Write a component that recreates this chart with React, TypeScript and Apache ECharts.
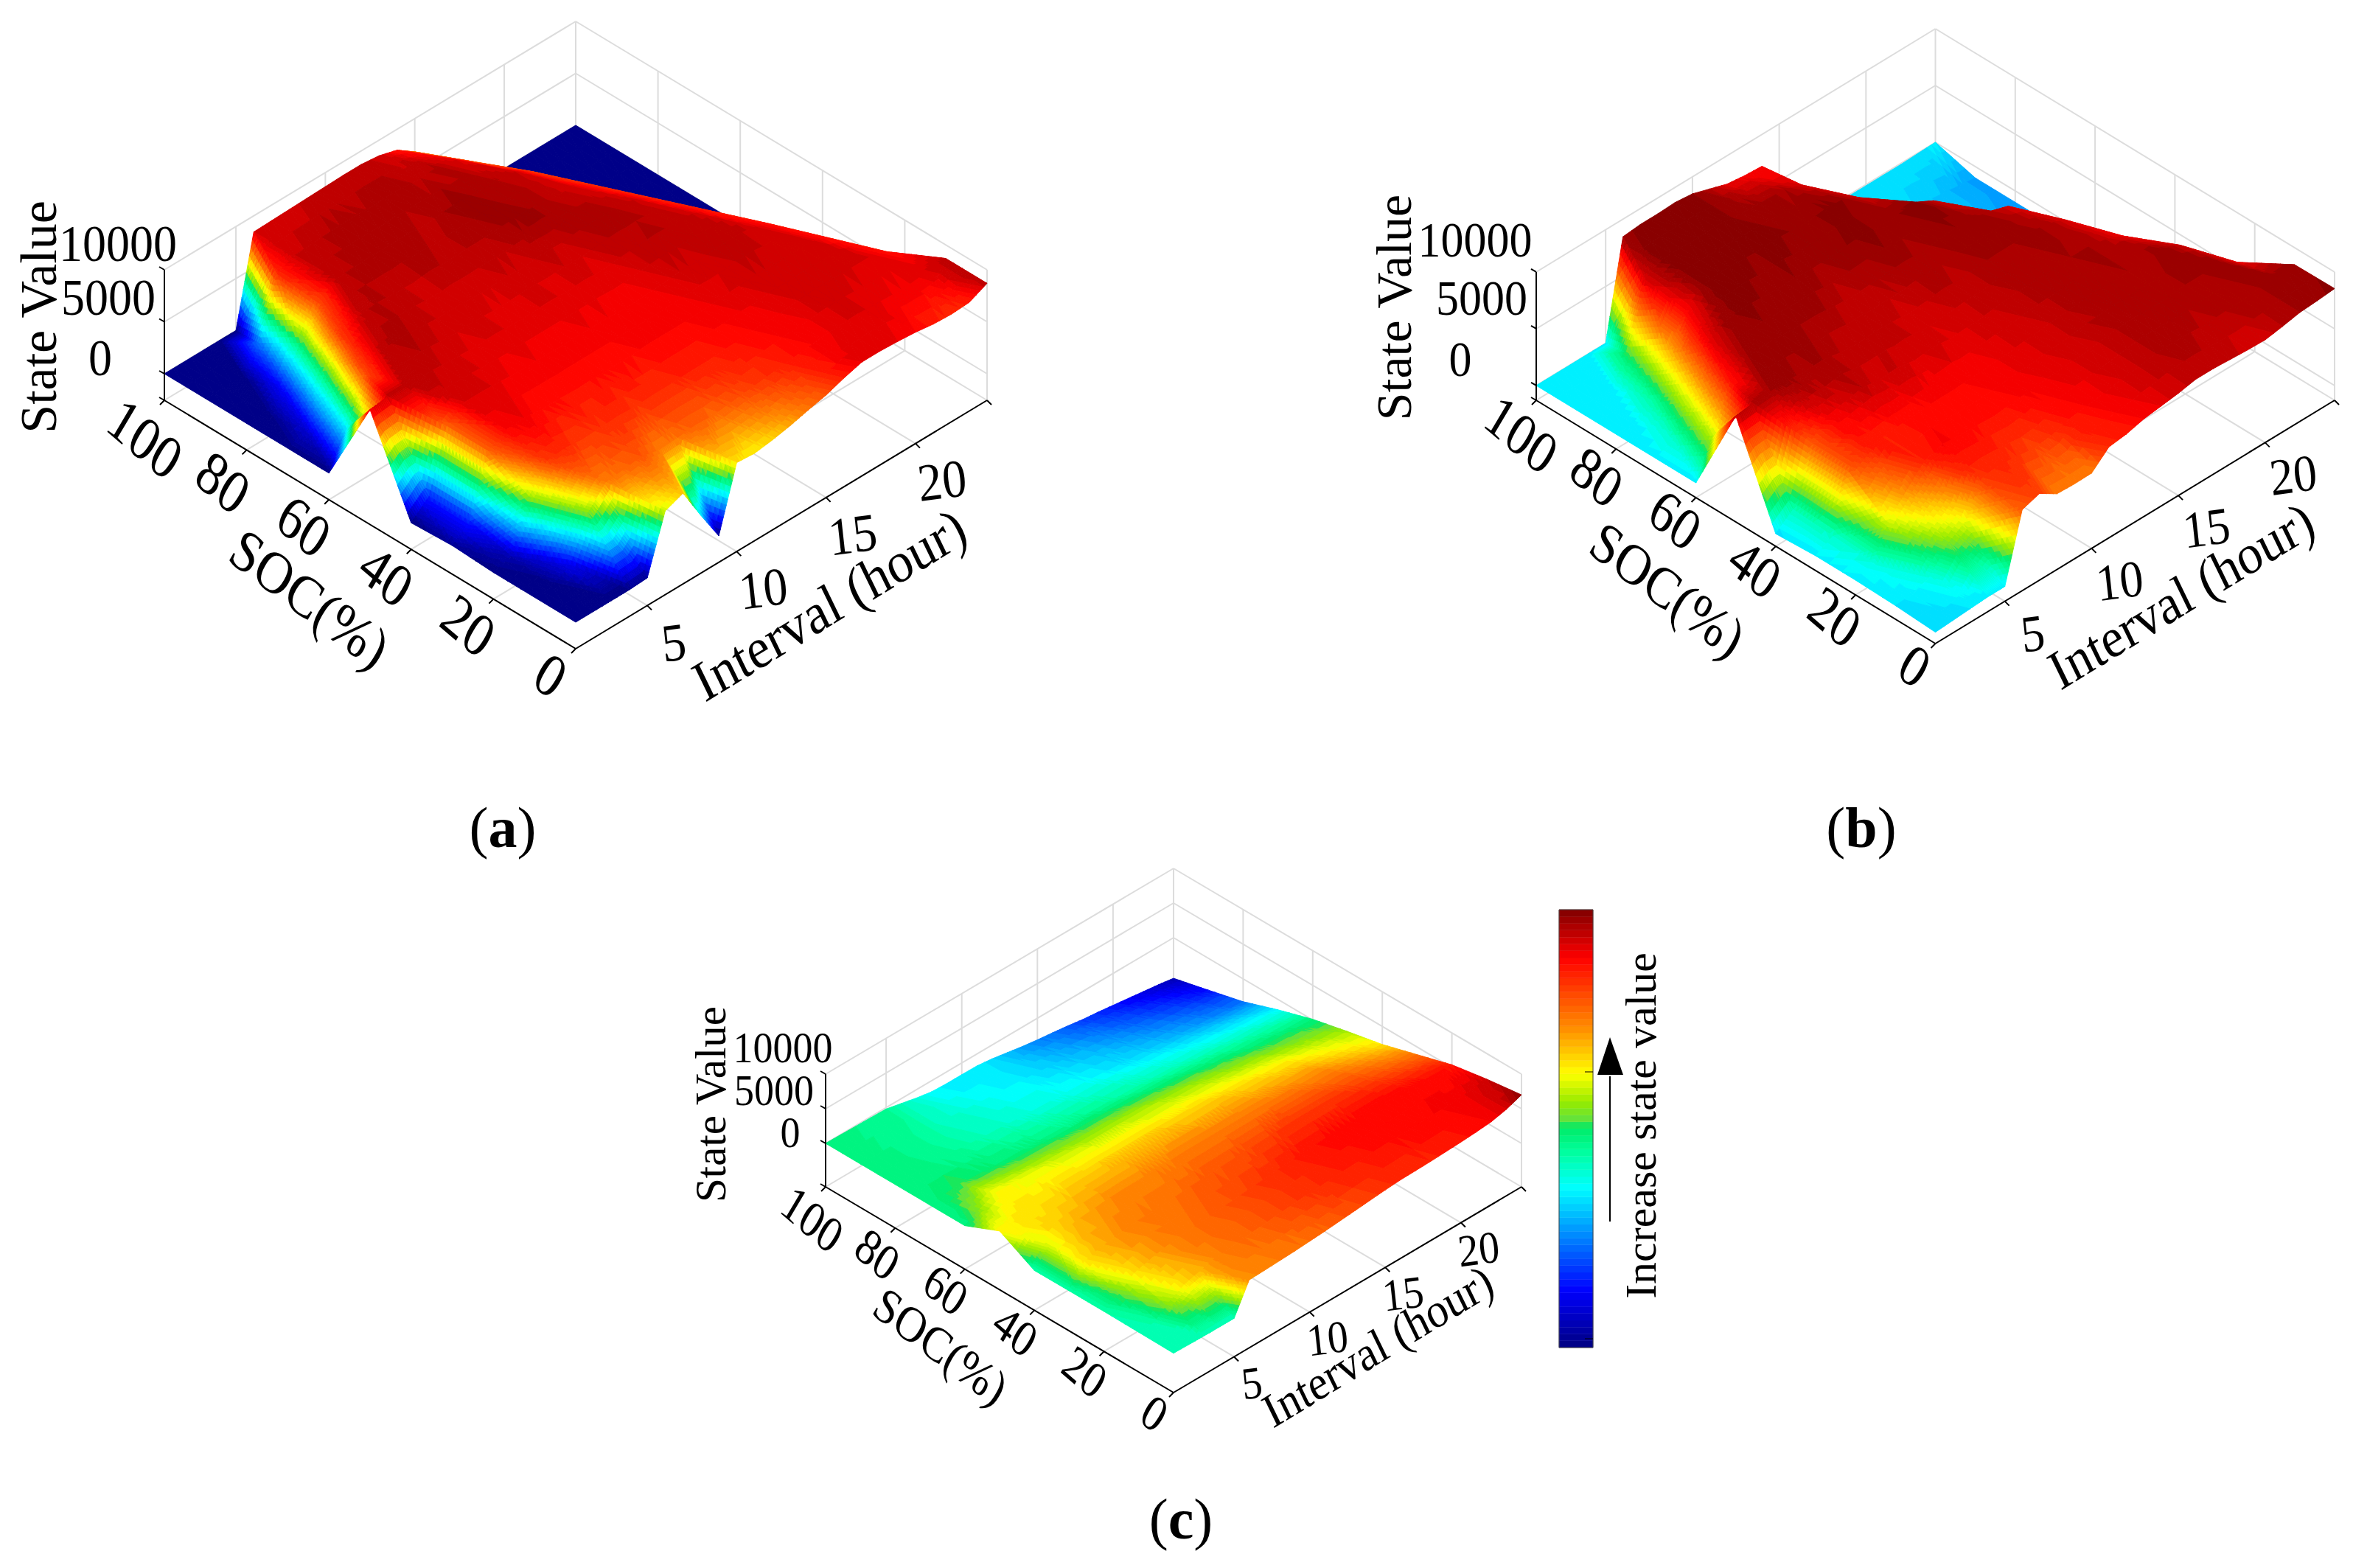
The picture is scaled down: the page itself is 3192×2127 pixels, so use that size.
import React, { useEffect, useRef } from "react";
import * as echarts from "echarts";

const socLevels = [0, 10, 20, 30, 40, 50, 60, 70, 80, 90, 100];
const hourLevels = [1, 2, 3, 4, 5, 6, 7, 8, 9, 10, 11, 12, 13, 14, 15, 16, 17, 18, 19, 20, 21, 22, 23, 24];
const socTicks = [0, 20, 40, 60, 80, 100];
const hourTicks = [5, 10, 15, 20];
const zTicks = [0, 5000, 10000];

const surfaceA = [
  [0,0,0,0,100,5500,6180,3000,0,6000,5860,6100,6450,6900,7300,7900,8400,8400,8300,8150,7900,7800,7900,8700],
  [0,0,1000,5000,6900,7100,7300,6900,7000,7200,7100,7300,7500,7700,7900,8100,8300,8400,8500,8400,8300,8300,8500,8700],
  [0,500,5200,7600,7800,7600,7700,7800,7700,7800,7800,7900,7900,8000,8100,8300,8300,8500,8600,8500,8500,8500,8000,0],
  [200,1500,7200,8200,8300,8100,8100,8000,8100,8100,8100,8200,8200,8200,8300,8400,8500,8600,8500,8600,8600,8000,0,0],
  [0,1500,7200,8500,8500,8400,8300,8300,8300,8300,8300,8300,8200,8300,8400,8600,8500,8700,8800,8600,8000,0,0,0],
  [8500,8700,8700,8700,8600,8500,8400,8500,8400,8400,8500,8400,8500,8400,8600,8700,8800,8700,8600,7900,0,0,0,0],
  [0,3200,7400,8700,8900,8700,8600,8600,8500,8500,8600,8500,8700,8600,8800,8900,8800,8600,7800,0,0,0,0,0],
  [0,800,3800,7600,8600,8800,8700,8600,8800,8700,8800,8800,8900,9000,8900,8700,8500,7700,0,0,0,0,0,0],
  [0,0,1200,4600,7400,8700,8800,8900,8800,8900,8700,8900,9050,8800,8800,8600,7600,0,0,0,0,0,0,0],
  [0,0,0,2200,7800,8600,8700,8800,8900,8800,8900,8850,8700,8800,8400,7200,0,0,0,0,0,0,0,0],
  [0,0,0,0,0,8450,8500,8550,8600,8650,8700,8700,8500,8000,6800,2500,0,0,0,0,0,0,0,0],
];

const surfaceB = [
  [-300,-200,-100,0,0,5830,6330,5370,5300,5330,6700,6900,7290,7500,7700,8000,8000,7900,7800,7750,8000,8300,8400,8540],
  [-100,0,600,2500,3500,6500,6700,6500,6300,6500,7000,7200,7400,7700,7900,8100,8200,8100,8000,8100,8200,8300,8400,8500],
  [0,600,3500,5200,6800,7300,7200,7100,7000,7200,7300,7500,7600,7700,7900,8100,8200,8100,8200,8300,8300,8400,7500,-500],
  [0,800,6000,7000,6800,7000,7100,7200,7200,7300,7400,7500,7700,7800,8000,8100,8300,8200,8300,8200,8400,7800,-300,-300],
  [-200,1000,6000,7400,7700,8000,7800,7900,7600,7800,7600,7700,7800,8000,8100,8200,8200,8300,8300,8000,7400,-500,-600,-600],
  [8040,8200,8300,8400,8200,8300,8000,7900,8000,7900,7800,7900,8100,8000,8200,8300,8300,8400,8200,7600,-500,-500,-600,-800],
  [0,3200,7000,8300,8500,8400,8300,8300,8100,8000,8100,8200,8300,8200,8400,8500,8400,8100,7600,-300,-400,-500,-700,-900],
  [0,800,3800,7400,8400,8600,8500,8400,8500,8300,8400,8500,8600,8400,8500,8600,7800,-800,-600,-500,-500,-600,-800,-1000],
  [0,0,1200,4600,7200,8500,8700,8600,8500,8600,8500,8400,8600,8500,7800,-1000,-800,-500,-400,-400,-500,-700,-900,-1000],
  [0,0,0,2200,7700,8600,8700,8600,8700,8500,8400,8300,8200,7700,-200,-500,-400,-300,-300,-300,-400,-600,-800,-1000],
  [0,0,0,0,0,8450,8600,8600,8670,8500,8000,7500,7300,7200,1000,-300,-200,-200,-100,-100,-100,-100,-50,0],
];

const surfaceC = [
  [-600,-650,-700,-720,-730,3530,3600,3700,3800,3950,4100,4300,4500,4700,4900,5050,5100,5150,5250,5350,5500,5700,6200,7000],
  [-550,-500,1200,2400,3000,3600,3900,4100,4300,4500,4700,4900,5000,5200,5300,5400,5500,5600,5650,5700,5750,5800,6100,6300],
  [-500,700,2400,3000,3500,3800,4000,4200,4400,4600,4800,5000,5200,5400,5500,5600,5600,5650,5700,5700,5650,5600,5500,5400],
  [-500,2400,3000,3400,3700,3800,3900,4000,4200,4300,4400,4500,4600,4700,4800,4900,4900,4900,4800,4700,4500,4300,4100,3900],
  [-530,1800,2700,3100,3300,3500,3600,3600,3700,3700,3800,3800,3800,3800,3800,3800,3700,3700,3600,3600,3300,3000,2700,2400],
  [2200,2300,2400,2500,2600,2700,2700,2800,2800,2800,2800,2800,2700,2700,2700,2600,2500,2400,2300,2200,1900,1700,1500,1300],
  [0,1100,2100,2000,1900,1800,1700,1600,1500,1500,1500,1400,1400,1300,1200,1100,1000,800,700,500,400,300,200,100],
  [0,300,500,300,200,100,50,0,-100,-200,-200,-300,-400,-500,-600,-700,-800,-900,-1000,-1100,-1200,-1300,-1400,-1500],
  [0,0,-50,-200,-300,-500,-700,-800,-1000,-1100,-1200,-1300,-1400,-1500,-1700,-1900,-2000,-2200,-2400,-2600,-2800,-3000,-3200,-3300],
  [0,-50,-100,-200,-400,-700,-900,-1100,-1300,-1500,-1600,-1800,-2000,-2200,-2400,-2600,-2900,-3100,-3400,-3600,-3900,-4100,-4400,-4600],
  [0,-50,-100,-150,-200,-700,-1200,-1600,-1700,-1700,-1730,-2000,-2400,-2800,-3130,-3400,-3700,-4060,-4300,-4600,-4900,-5200,-5500,-5860],
];

const colorStops: number[][] = [
  [0, 0, 0, 128], [0.13, 0, 0, 255], [0.365, 0, 255, 255], [0.445, 0, 255, 160], [0.505, 0, 235, 100],
  [0.515, 90, 225, 70], [0.56, 150, 235, 0], [0.625, 255, 255, 0], [0.73, 255, 140, 0], [0.89, 255, 0, 0], [1, 128, 0, 0],
];

const SERIF = '"Liberation Serif"';
const LEVELS = 64;

function jet(t: number) {
  const x = Math.max(0, Math.min(1, t));
  for (let i = 1; i < colorStops.length; i++) {
    const a = colorStops[i - 1], b = colorStops[i];
    if (x <= b[0]) {
      const f = (x - a[0]) / (b[0] - a[0]);
      const m = (k: number) => Math.round(a[k] + (b[k] - a[k]) * f);
      return `rgb(${m(1)},${m(2)},${m(3)})`;
    }
  }
  return "rgb(128,0,0)";
}
function band(t: number) {
  const k = Math.max(0, Math.min(LEVELS - 1, Math.floor(t * LEVELS)));
  return jet((k + 0.5) / LEVELS);
}

type Panel = {
  z: number[][]; cMin: number; cMax: number;
  leftX: number; hw: number; frontY: number; hh: number; pz: number; floorZ: number;
  zFont: number; socFont: number; hourFont: number; titleFont: number;
  zOff: number[][]; socOff: number[]; hourOff: number[];
  state: [number, number]; soc: [number, number]; interval: [number, number];
};

const panels: Panel[] = [
  { z: surfaceA, cMin: 0, cMax: 9200, leftX: 223, hw: 558, frontY: 880, hh: 337, pz: 0.0141, floorZ: -2553,
    zFont: 64, socFont: 70, hourFont: 66, titleFont: 70,
    zOff: [[-87, -22], [-76, -33], [-63, -36]], socOff: [-34, 36], hourOff: [36, 50],
    state: [52, 430], soc: [420, 812], interval: [1125, 820] },
  { z: surfaceB, cMin: -4690, cMax: 8710, leftX: 2084, hw: 541.5, frontY: 873, hh: 330, pz: 0.0154, floorZ: -1300,
    zFont: 62, socFont: 68, hourFont: 64, titleFont: 68,
    zOff: [[-103, -36], [-74, -42], [-83, -44]], socOff: [-28, 30], hourOff: [38, 44],
    state: [1891, 417], soc: [2262, 800], interval: [2959, 808] },
  { z: surfaceC, cMin: -6517, cMax: 7208, leftX: 1120, hw: 472, frontY: 1889, hh: 279, pz: 0.0094, floorZ: -6277,
    zFont: 54, socFont: 58, hourFont: 56, titleFont: 59,
    zOff: [[-48, -15], [-70, -25], [-58, -36]], socOff: [-26, 28], hourOff: [24, 36],
    state: [964, 1498], soc: [1276, 1826], interval: [1869, 1826] },
];

const hourT = (h: number) => (h - 1) / 23;
const socT = (s: number) => s / 100;

const textEl = (x: number, y: number, text: string, font: number, rotation = 0, scaleY = 1) => ({
  type: "group", x, y, scaleY,
  children: [{
    type: "text", x: 0, y: 0, rotation,
    style: { text, fill: "#000", font: `${font}px ${SERIF}`, align: "center", verticalAlign: "middle", textAlign: "center", textVerticalAlign: "middle" },
  }],
});

function makeSeries(p: Panel, idx: number) {
  const K = p.hh / p.pz;
  const project = (api: any, soc: number, hour: number, z: number) => {
    const u = hourT(hour), v = socT(soc);
    return api.coord([u - v, z + (u + v) * K]);
  };

  const segs: number[][] = [];
  const zTop = 10000;
  const hMax = 24, sMax = 100;
  for (const h of hourTicks) {
    segs.push([sMax, h, p.floorZ, sMax, h, zTop]);
    segs.push([0, h, p.floorZ, sMax, h, p.floorZ]);
  }
  for (const c of socTicks) {
    if (c !== 100) segs.push([c, hMax, p.floorZ, c, hMax, zTop]);
    if (c !== 0 && c !== 100) segs.push([c, 1, p.floorZ, c, hMax, p.floorZ]);
  }
  for (const z of zTicks) {
    segs.push([sMax, 1, z, sMax, hMax, z]);
    segs.push([sMax, hMax, z, 0, hMax, z]);
  }
  segs.push([sMax, 1, p.floorZ, sMax, hMax, p.floorZ]);
  segs.push([sMax, hMax, p.floorZ, 0, hMax, p.floorZ]);
  segs.push([sMax, hMax, p.floorZ, sMax, hMax, zTop]);

  const frame = {
    type: "custom", xAxisIndex: idx, yAxisIndex: idx, silent: true, clip: false, z: 1,
    data: segs,
    renderItem: (_: any, api: any) => {
      const a = project(api, api.value(0), api.value(1), api.value(2));
      const b = project(api, api.value(3), api.value(4), api.value(5));
      return { type: "line", shape: { x1: a[0], y1: a[1], x2: b[0], y2: b[1] }, style: { stroke: "#dcdcdc", lineWidth: 2, fill: null } };
    },
  };

  const cells: number[][] = [];
  for (let i = 0; i < socLevels.length - 1; i++)
    for (let j = 0; j < hourLevels.length - 1; j++) cells.push([socLevels[i], hourLevels[j], i, j]);
  cells.sort((a, b) => (hourT(b[1]) + socT(b[0])) - (hourT(a[1]) + socT(a[0])));

  const range = p.cMax - p.cMin;
  const surface = {
    type: "custom", xAxisIndex: idx, yAxisIndex: idx, silent: true, clip: false, z: 2,
    data: cells,
    renderItem: (_: any, api: any) => {
      const i = api.value(2), j = api.value(3);
      const z00 = p.z[i][j], z01 = p.z[i][j + 1], z10 = p.z[i + 1][j], z11 = p.z[i + 1][j + 1];
      const step = range / 48;
      const spread = Math.max(Math.abs(z01 - z00), Math.abs(z11 - z10), Math.abs(z10 - z00), Math.abs(z11 - z01));
      const n = Math.max(2, Math.min(12, Math.ceil(spread / step)));
      const s0 = socLevels[i], s1 = socLevels[i + 1], h0 = hourLevels[j], h1 = hourLevels[j + 1];
      const mainDiag = Math.abs(z00 - z11) <= Math.abs(z01 - z10);
      const zAt = (a: number, b: number) => {
        if (mainDiag) {
          return b >= a ? z00 + b * (z01 - z00) + a * (z11 - z01) : z00 + a * (z10 - z00) + b * (z11 - z10);
        }
        return a + b <= 1 ? z00 + b * (z01 - z00) + a * (z10 - z00) : z11 + (1 - b) * (z10 - z11) + (1 - a) * (z01 - z11);
      };
      const P = (a: number, b: number) => project(api, s0 + (s1 - s0) * a, h0 + (h1 - h0) * b, zAt(a, b));
      const children: any[] = [];
      const tri = (pts: number[][]) => {
        const ca = (pts[0][0] + pts[1][0] + pts[2][0]) / 3, cb = (pts[0][1] + pts[1][1] + pts[2][1]) / 3;
        const col = band((zAt(ca, cb) - p.cMin) / range);
        children.push({
          type: "polygon",
          shape: { points: pts.map((q) => P(q[0], q[1])) },
          style: { fill: col, stroke: col, lineWidth: 1 },
        });
      };
      for (let ia = n - 1; ia >= 0; ia--) {
        for (let ib = n - 1; ib >= 0; ib--) {
          const a0 = ia / n, a1 = (ia + 1) / n, b0 = ib / n, b1 = (ib + 1) / n;
          if (mainDiag) {
            tri([[a0, b0], [a0, b1], [a1, b1]]);
            tri([[a0, b0], [a1, b0], [a1, b1]]);
          } else {
            tri([[a1, b1], [a0, b1], [a1, b0]]);
            tri([[a0, b0], [a0, b1], [a1, b0]]);
          }
        }
      }
      return { type: "group", children };
    },
  };

  const axisSegs: number[][] = [
    [100, 1, p.floorZ, 0, 1, p.floorZ],
    [0, 1, p.floorZ, 0, 24, p.floorZ],
    [100, 1, p.floorZ, 100, 1, 10000],
  ];
  const axes = {
    type: "custom", xAxisIndex: idx, yAxisIndex: idx, silent: true, clip: false, z: 3,
    data: axisSegs,
    renderItem: (_: any, api: any) => {
      const a = project(api, api.value(0), api.value(1), api.value(2));
      const b = project(api, api.value(3), api.value(4), api.value(5));
      return { type: "line", shape: { x1: a[0], y1: a[1], x2: b[0], y2: b[1] }, style: { stroke: "#000", lineWidth: 2, fill: null } };
    },
  };
  const tickMarks: number[][] = [];
  for (const c of socTicks) tickMarks.push([c, 1]);
  for (const h of hourTicks) tickMarks.push([0, h]);
  tickMarks.push([0, 24]);
  const ticks = {
    type: "custom", xAxisIndex: idx, yAxisIndex: idx, silent: true, clip: false, z: 3,
    data: tickMarks,
    renderItem: (_: any, api: any) => {
      const c = api.value(0), h = api.value(1);
      const a = project(api, c, h, p.floorZ);
      const dx = c === 0 && h > 1 ? 6 : -6;
      return { type: "line", shape: { x1: a[0], y1: a[1], x2: a[0] + dx, y2: a[1] + 6 }, style: { stroke: "#000", lineWidth: 2, fill: null } };
    },
  };
  const zTickMarks = {
    type: "custom", xAxisIndex: idx, yAxisIndex: idx, silent: true, clip: false, z: 3,
    data: [...zTicks, p.floorZ].map((z) => [z]),
    renderItem: (_: any, api: any) => {
      const a = project(api, 100, 1, api.value(0));
      return { type: "line", shape: { x1: a[0], y1: a[1], x2: a[0] - 7, y2: a[1] - 4 }, style: { stroke: "#000", lineWidth: 2, fill: null } };
    },
  };

  const socLabels = {
    type: "custom", xAxisIndex: idx, yAxisIndex: idx, silent: true, clip: false, z: 4,
    data: socTicks.map((c) => [c]),
    renderItem: (_: any, api: any) => {
      const c = api.value(0);
      const a = project(api, c, 1, p.floorZ);
      const extra = c === 100 ? [8, 16] : c === 80 ? [2, 8] : [0, 0];
      return textEl(a[0] + p.socOff[0] + extra[0], a[1] + p.socOff[1] + extra[1], String(c), p.socFont, -0.62, 1.2);
    },
  };
  const hourLabels = {
    type: "custom", xAxisIndex: idx, yAxisIndex: idx, silent: true, clip: false, z: 4,
    data: hourTicks.map((h) => [h]),
    renderItem: (_: any, api: any) => {
      const h = api.value(0);
      const a = project(api, 0, h, p.floorZ);
      return textEl(a[0] + p.hourOff[0], a[1] + p.hourOff[1], String(h), p.hourFont, 0.12, 1.1);
    },
  };
  const zLabels = {
    type: "custom", xAxisIndex: idx, yAxisIndex: idx, silent: true, clip: false, z: 4,
    data: zTicks.map((z, k) => [z, k]),
    renderItem: (_: any, api: any) => {
      const z = api.value(0), k = api.value(1);
      const a = project(api, 100, 1, z);
      const off = p.zOff[k];
      return textEl(a[0] + off[0], a[1] + off[1], String(z), p.zFont, 0, 1.1);
    },
  };
  return [frame, surface, axes, ticks, zTickMarks, socLabels, hourLabels, zLabels];
}

const colorBands = Array.from({ length: LEVELS }, (_, k) => [k]);

export default function App() {
  const ref = useRef<HTMLDivElement>(null);
  useEffect(() => {
    const chart = echarts.init(ref.current!, undefined, { renderer: "svg", width: 3192, height: 2127 });
    const grids: any[] = [], xAxes: any[] = [], yAxes: any[] = [];
    const series: any[] = [];
    const elements: any[] = [];
    const hidden = { show: false, type: "value" as const, scale: true };
    panels.forEach((p, idx) => {
      const K = p.hh / p.pz;
      const yMax = 10000 + 2 * K;
      const height = (yMax - p.floorZ) * p.pz;
      grids.push({ left: p.leftX, width: 2 * p.hw, top: p.frontY - height, height });
      xAxes.push({ ...hidden, gridIndex: idx, min: -1, max: 1 });
      yAxes.push({ ...hidden, gridIndex: idx, min: p.floorZ, max: yMax });
      series.push(...makeSeries(p, idx));
      const t = (x: number, y: number, text: string, rotation: number, scaleY = 1) => ({
        type: "group", x, y, scaleY, z: 10,
        children: [{
          type: "text", x: 0, y: 0, rotation,
          style: { text, fill: "#000", font: `${p.titleFont}px ${SERIF}`, textAlign: "center", textVerticalAlign: "middle" },
        }],
      });
      elements.push(t(p.state[0], p.state[1], "State Value", Math.PI / 2));
      elements.push(t(p.soc[0], p.soc[1], "SOC(%)", -0.58, 1.15));
      elements.push(t(p.interval[0], p.interval[1], "Interval (hour)", 0.5, 1.12));
    });
    grids.push({ left: 2115, width: 46, top: 1234, height: 594 });
    xAxes.push({ ...hidden, gridIndex: 3, min: 0, max: 1 });
    yAxes.push({ ...hidden, gridIndex: 3, min: 0, max: LEVELS });
    series.push({
      type: "custom", xAxisIndex: 3, yAxisIndex: 3, silent: true, clip: false, z: 2,
      data: colorBands,
      renderItem: (_: any, api: any) => {
        const k = api.value(0);
        const a = api.coord([0, k + 1]), b = api.coord([1, k]);
        const col = jet((k + 0.5) / LEVELS);
        return { type: "rect", shape: { x: a[0], y: a[1], width: b[0] - a[0], height: b[1] - a[1] }, style: { fill: col, stroke: col, lineWidth: 0.5 } };
      },
    });
    elements.push({ type: "rect", z: 9, shape: { x: 2115, y: 1234, width: 46, height: 594 }, style: { fill: "none", stroke: "#444", lineWidth: 1 } });
    elements.push({ type: "line", z: 9, shape: { x1: 2150, y1: 1454, x2: 2161, y2: 1454 }, style: { stroke: "#000", lineWidth: 1 } });
    elements.push({ type: "line", z: 9, shape: { x1: 2150, y1: 1816, x2: 2161, y2: 1816 }, style: { stroke: "#000", lineWidth: 1 } });
    elements.push({ type: "line", z: 9, shape: { x1: 2184, y1: 1657, x2: 2184, y2: 1460 }, style: { stroke: "#000", lineWidth: 2 } });
    elements.push({ type: "polygon", z: 9, shape: { points: [[2184, 1407], [2167, 1458], [2202, 1458]] }, style: { fill: "#000" } });
    elements.push({ type: "text", x: 2226, y: 1527, rotation: Math.PI / 2, z: 10, style: { text: "Increase state value", fill: "#000", font: `60px ${SERIF}`, textAlign: "center", textVerticalAlign: "middle" } });
    const caption = (x: number, y: number, letter: string) => ({
      type: "text", x, y, z: 10,
      style: {
        text: `{p|(}{b|${letter}}{p|)}`, textAlign: "center", textVerticalAlign: "middle",
        rich: { p: { font: `78px ${SERIF}`, fill: "#000" }, b: { font: `bold 78px ${SERIF}`, fill: "#000" } },
      },
    });
    elements.push(caption(682, 1122, "a"), caption(2525, 1122, "b"), caption(1602, 2060, "c"));

    chart.setOption({
      animation: false,
      backgroundColor: "#fff",
      grid: grids, xAxis: xAxes, yAxis: yAxes, series,
      graphic: { elements },
    });
    return () => chart.dispose();
  }, []);
  return <div ref={ref} style={{ position: "fixed", left: 0, top: 0, width: 3192, height: 2127 }} />;
}
